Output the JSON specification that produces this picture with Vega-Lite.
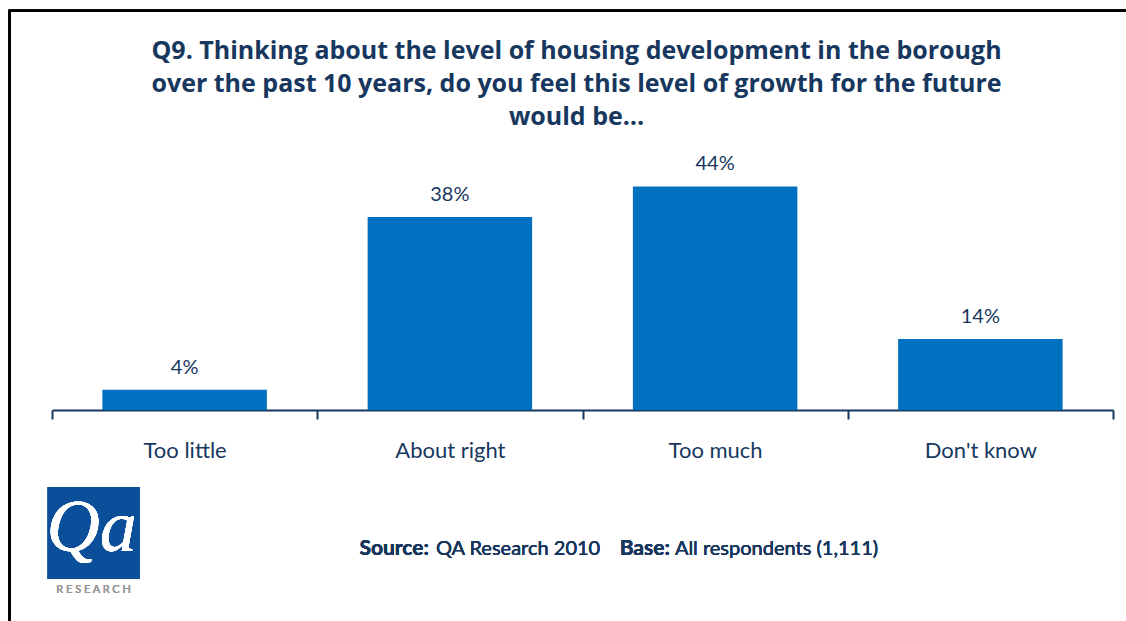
{
  "$schema": "https://vega.github.io/schema/vega-lite/v6.json",
  "autosize": {"type": "none"},
  "width": 1061,
  "height": 254,
  "padding": {"left": 52, "top": 156, "right": 13, "bottom": 211},
  "background": "white",
  "config": {"view": {"stroke": null}, "font": "Lato"},
  "title": {
    "text": ["Q9. Thinking about the level of housing development in the borough", "over the past 10 years, do you feel this level of growth for the future", "would be…"],
    "font": "Open Sans",
    "fontSize": 25,
    "fontWeight": "bold",
    "color": "#17375E",
    "lineHeight": 33,
    "anchor": "middle",
    "frame": "group",
    "dx": -6,
    "offset": -121
  },
  "data": {
    "values": [
      {"response": "Too little", "share": 0.04},
      {"response": "About right", "share": 0.38},
      {"response": "Too much", "share": 0.44},
      {"response": "Don't know", "share": 0.14}
    ]
  },
  "encoding": {
    "x": {
      "field": "response",
      "type": "nominal",
      "sort": null,
      "scale": {"paddingInner": 0, "paddingOuter": 0},
      "axis": {
        "title": null,
        "labelAngle": 0,
        "labelFont": "Lato",
        "labelFontSize": 22,
        "labelColor": "#17375E",
        "labelPadding": 21,
        "domainColor": "#17375E",
        "domainWidth": 2,
        "tickColor": "#17375E",
        "tickWidth": 2,
        "tickSize": 9,
        "tickBand": "extent",
        "grid": false
      }
    }
  },
  "layer": [
    {
      "mark": {"type": "bar", "color": "#0070C0", "width": {"band": 0.62}},
      "encoding": {
        "y": {"field": "share", "type": "quantitative", "scale": {"domain": [0, 0.5], "nice": false}, "axis": null}
      }
    },
    {
      "mark": {"type": "text", "baseline": "bottom", "dy": -12, "fontSize": 20, "color": "#17375E", "font": "Lato"},
      "encoding": {
        "y": {"field": "share", "type": "quantitative"},
        "text": {"field": "share", "type": "quantitative", "format": ".0%"}
      }
    },
    {
      "mark": {"type": "rule", "color": "black", "strokeWidth": 2.5, "xOffset": -175},
      "encoding": {"x": {"datum": "Too little"}, "y": {"datum": 0.786}, "y2": {"datum": -0.45}}
    },
    {
      "mark": {"type": "rule", "color": "black", "strokeWidth": 2.5, "xOffset": -176, "x2Offset": 160},
      "encoding": {"x": {"datum": "Too little"}, "x2": {"datum": "Don't know"}, "y": {"datum": 0.786}}
    },
    {
      "mark": {"type": "point", "shape": "square", "filled": true, "size": 8464, "color": "#0B4F9A", "opacity": 1, "xOffset": -91},
      "encoding": {"x": {"datum": "Too little"}, "y": {"datum": -0.242}}
    },
    {
      "mark": {"type": "text", "font": "Liberation Serif", "fontStyle": "italic", "fontSize": 74, "color": "white", "baseline": "middle", "align": "center", "dx": -93, "dy": -4},
      "encoding": {"x": {"datum": "Too little"}, "y": {"datum": -0.242}, "text": {"value": "Qa"}}
    },
    {
      "mark": {"type": "text", "font": "Lato", "fontSize": 11, "color": "#999999", "baseline": "middle", "align": "center", "dx": -91},
      "encoding": {"x": {"datum": "Too little"}, "y": {"datum": -0.354}, "text": {"value": "R    E    S    E    A    R    C    H"}}
    },
    {
      "mark": {"type": "text", "font": "Lato", "fontSize": 21, "fontWeight": "bold", "color": "#17375E", "baseline": "middle", "align": "right", "dx": -21},
      "encoding": {"x": {"datum": "About right"}, "y": {"datum": -0.274}, "text": {"value": "Source:"}}
    },
    {
      "mark": {"type": "text", "font": "Lato", "fontSize": 20, "color": "#17375E", "baseline": "middle", "align": "left", "dx": -14},
      "encoding": {"x": {"datum": "About right"}, "y": {"datum": -0.274}, "text": {"value": "QA Research 2010"}}
    },
    {
      "mark": {"type": "text", "font": "Lato", "fontSize": 21, "fontWeight": "bold", "color": "#17375E", "baseline": "middle", "align": "right", "dx": 220},
      "encoding": {"x": {"datum": "About right"}, "y": {"datum": -0.274}, "text": {"value": "Base:"}}
    },
    {
      "mark": {"type": "text", "font": "Lato", "fontSize": 20, "color": "#17375E", "baseline": "middle", "align": "left", "dx": 225},
      "encoding": {"x": {"datum": "About right"}, "y": {"datum": -0.274}, "text": {"value": "All respondents (1,111)"}}
    }
  ]
}
